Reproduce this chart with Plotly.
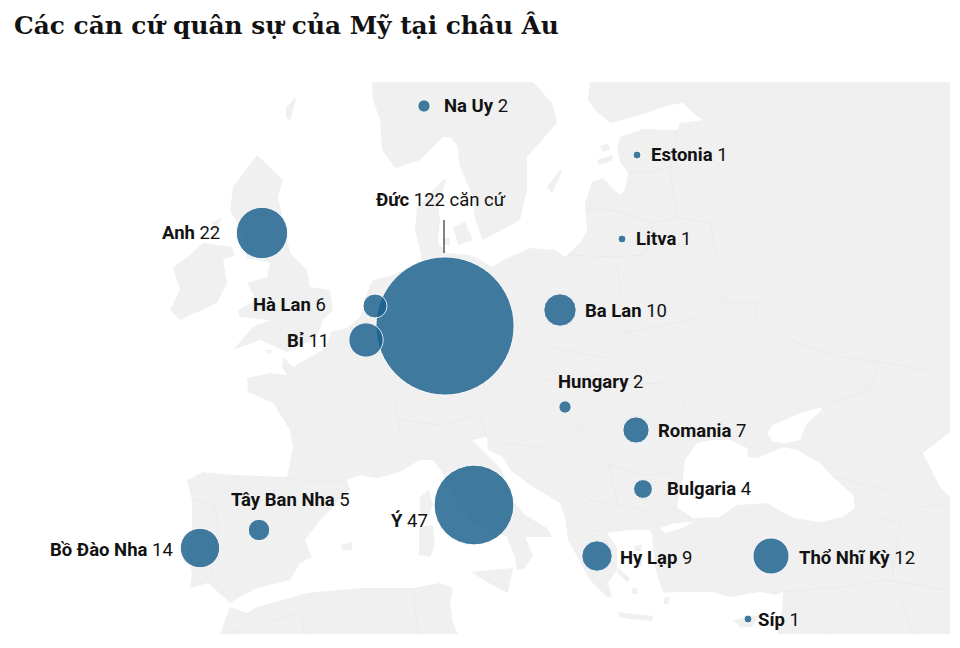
import plotly.graph_objects as go

countries = ['Đức', 'Ý', 'Anh', 'Bồ Đào Nha', 'Thổ Nhĩ Kỳ', 'Bỉ', 'Ba Lan', 'Hy Lạp', 'Romania', 'Hà Lan',
             'Tây Ban Nha', 'Bulgaria', 'Na Uy', 'Hungary', 'Estonia', 'Litva', 'Síp']
bases = [122, 47, 22, 14, 12, 11, 10, 9, 7, 6, 5, 4, 2, 2, 1, 1, 1]
suffix = [' căn cứ'] + [''] * 16

# where each country sits on the map
map_x = [445, 474, 262, 200, 771, 366, 560, 597, 636, 375, 259, 643, 424, 565, 637, 622, 748]
map_y = [326, 505, 233, 548, 556, 340, 310, 556, 430, 306, 530, 489, 106, 407, 155, 239, 619]
label_x = [376, 391, 162, 50, 799, 287, 585, 620, 658, 253, 231, 667, 444, 558, 651, 636, 758]
label_y = [200, 521, 233, 550, 558, 341, 311, 558, 431, 305, 500, 489, 106, 382, 155, 239, 620]

leader_x = [444, 444]
leader_y = [220, 253]

mainland = [(590,82),(588,100),(595,110),(610,123),(640,115),(670,105),(683,103),(693,113),(703,120),(680,123),
    (677,130),(643,129),(620,137),(617,148),(620,162),(628,173),(625,190),(620,195),(612,188),(603,178),(592,182),
    (585,203),(587,230),(580,243),(565,257),(555,250),(530,248),(503,260),(493,267),(470,255),(447,253),(438,243),
    (440,220),(438,203),(447,178),(443,180),(417,207),(415,230),(420,250),(422,263),(387,277),(373,280),(368,290),
    (360,317),(347,328),(330,332),(330,337),(323,350),(310,357),(293,367),(283,357),(282,367),(287,375),(270,373),
    (247,378),(248,392),(273,403),(290,430),(293,447),(287,477),(233,475),(203,472),(187,480),(192,500),(192,530),
    (187,553),(192,573),(190,588),(208,583),(230,603),(240,597),(257,588),(290,580),(300,563),(312,557),(305,540),
    (320,520),(350,490),(347,480),(360,475),(377,478),(400,472),(420,460),(433,460),(442,472),(450,490),(470,520),
    (507,537),(515,557),(517,570),(525,568),(533,555),(525,537),(552,537),(547,528),(525,515),(512,500),(502,470),
    (472,440),(487,437),(488,450),(503,457),(510,470),(533,487),(560,503),(565,517),(568,540),(583,567),(590,580),
    (607,597),(612,597),(608,583),(617,570),(617,548),(607,533),(627,530),(650,530),(652,535),(655,567),(663,593),
    (680,592),(713,592),(730,597),(760,592),(777,595),(783,592),(782,610),(777,634),(950,634),(950,82)]
scandinavia = [(372,82),(373,100),(380,120),(382,150),(395,168),(420,160),(443,137),(450,137),(457,145),(460,167),
    (473,197),(475,220),(483,240),(507,227),(520,220),(527,190),(527,157),(557,123),(552,103),(533,82)]
britain = [(257,155),(283,180),(278,197),(285,230),(290,253),(307,270),(310,287),(330,290),(333,310),(323,320),
    (317,337),(287,352),(260,340),(233,350),(253,327),(270,320),(240,317),(238,310),(256,300),(247,283),(267,277),
    (270,263),(247,258),(243,233),(230,210),(233,187)]
ireland = [(203,243),(232,247),(235,255),(223,260),(227,283),(217,303),(180,320),(170,310),(180,290),(173,267),(190,255)]
africa = [(220,634),(230,607),(247,613),(257,607),(307,593),(360,588),(413,588),(440,583),(453,588),(450,603),
    (453,623),(458,634)]
corsica = [(420,497),(429,490),(433,505),(428,517),(420,512)]
sardinia = [(419,527),(433,525),(435,545),(430,557),(419,555)]
sicily = [(472,572),(513,568),(508,593),(483,580)]
crete = [(618,612),(635,614),(653,616),(652,621),(630,619),(619,617)]
cyprus = [(733,620),(760,615),(752,627),(740,627)]
balearic = [(340,545),(352,542),(352,550),(344,551)]
zealand = [(453,227),(465,222),(473,240),(458,245)]
funen = [(443,238),(450,238),(450,245),(443,245)]
gotland = [(547,187),(560,170),(562,172),(552,193)]
saaremaa = [(597,160),(613,155),(612,161),(599,165)]
hiiumaa = [(600,146),(608,143),(610,149),(603,152)]
shetland = [(286,108),(295,97),(296,100),(290,120),(286,118)]
hebrides = [(212,222),(222,218),(218,225),(214,232)]
wight = [(263,350),(272,350),(270,354)]
euboea = [(618,568),(630,578),(627,582),(617,573)]
lesbos = [(634,546),(642,545),(641,551),(635,551)]
chios = [(638,560),(642,559),(642,566),(638,566)]
naxos = [(632,588),(638,588),(637,594),(632,594)]
rhodes = [(664,598),(670,596),(668,604),(664,604)]
land = [mainland, scandinavia, britain, ireland, africa, corsica, sardinia, sicily, crete, cyprus, balearic,
        zealand, funen, gotland, saaremaa, hiiumaa, shetland, hebrides, wight, euboea, lesbos, chios, naxos, rhodes]

black_sea = [(697,443),(685,460),(683,477),(677,507),(693,518),(720,517),(737,505),(767,503),(793,518),(820,522),
    (843,517),(855,508),(853,495),(833,477),(820,463),(797,450),(783,447),(757,458),(748,457),(747,448),(730,440),
    (713,440)]
azov = [(767,433),(773,425),(800,413),(823,407),(820,412),(807,423),(800,440),(787,443),(773,442)]
caspian = [(950,432),(923,453),(933,473),(940,487),(950,497)]
marmara = [(660,528),(675,523),(693,522),(680,529),(665,533)]
water = [black_sea, azov, caspian, marmara]

borders = [
    [(287,477),(310,482),(347,482)],
    [(192,500),(215,505),(218,530),(210,578)],
    [(340,335),(385,395),(395,400),(400,430),(410,445),(420,460)],
    [(400,420),(440,425),(480,415),(487,437)],
    [(617,263),(620,287),(625,333),(607,358)],
    [(520,337),(547,347),(580,353),(607,358)],
    [(568,255),(613,257),(645,255),(653,223)],
    [(585,210),(613,210),(653,223),(677,217)],
    [(628,172),(647,173),(670,167)],
    [(677,130),(670,173),(677,217),(710,223),(717,257),(737,277),(723,303),(757,303),(757,320),(797,343),(843,357),
     (880,362),(925,370),(935,345),(950,350)],
    [(880,362),(870,390),(840,400),(823,407)],
    [(625,333),(700,318),(723,303)],
    [(525,370),(560,385),(597,375),(625,385),(660,383),(683,400),(697,437)],
    [(597,397),(580,427),(608,463),(637,475),(677,473)],
    [(608,463),(618,505),(657,513),(677,507)],
    [(500,443),(540,447),(580,427)],
    [(540,447),(560,480),(590,500),(618,505)],
    [(582,520),(590,530),(607,533)],
    [(783,592),(840,587),(887,580),(947,590)],
    [(880,517),(900,523),(893,573),(890,553)],
    [(833,477),(890,490),(917,507),(950,505)],
    [(900,597),(913,634)],
    [(800,592),(830,634)],
    [(230,633),(300,612),(305,634)],
    [(413,588),(418,634)],
]
border_x = []
border_y = []
for b in borders:
    border_x += [p[0] for p in b] + [None]
    border_y += [p[1] for p in b] + [None]

fig = go.Figure()


def add_shape_trace(points, colour):
    fig.add_trace(go.Scatter(x=[p[0] for p in points] + [points[0][0]], y=[p[1] for p in points] + [points[0][1]],
                             mode='lines', fill='toself', fillcolor=colour, line=dict(width=0), hoverinfo='skip',
                             showlegend=False))


for poly in land:
    add_shape_trace(poly, '#f0f0f0')
for poly in water:
    add_shape_trace(poly, '#ffffff')

fig.add_trace(go.Scatter(x=border_x, y=border_y, mode='lines', line=dict(color='#e8e8e8', width=0.8),
                         hoverinfo='skip', showlegend=False))

fig.add_trace(go.Scatter(x=leader_x, y=leader_y, mode='lines', line=dict(color='#333333', width=1.2),
                         hoverinfo='skip', showlegend=False))

fig.add_trace(go.Scatter(
    x=map_x, y=map_y, mode='markers', text=countries, hovertemplate='%{text}<extra></extra>', showlegend=False,
    marker=dict(size=[9 * v ** 0.57 - 1 for v in bases], sizemode='diameter', color='rgb(25,95,140)',
                opacity=0.82, line=dict(color='white', width=1))
))

for i in range(len(countries)):
    fig.add_annotation(x=label_x[i], y=label_y[i], xref='x', yref='y', xanchor='left', yanchor='middle', xshift=-1,
                       text=f"<b>{countries[i]}</b> {bases[i]}{suffix[i]}", showarrow=False, borderpad=0,
                       font=dict(family='Roboto', size=18.5, color='#121212'))

fig.update_layout(
    width=960, height=648, margin=dict(l=0, r=0, t=0, b=0), plot_bgcolor='white', paper_bgcolor='white',
    title=dict(text='<b>Các căn cứ quân sự của Mỹ tại châu Âu</b>', x=14 / 960, xanchor='left', y=1 - 25 / 648, yanchor='middle',
               font=dict(family='DejaVu Serif', size=24.8, color='#121212')),
    xaxis=dict(range=[0, 960], visible=False, fixedrange=True),
    yaxis=dict(range=[648, 0], visible=False, fixedrange=True),
    showlegend=False,
)

fig.write_html("out.html", post_script="document.body.style.margin='0';", config=dict(displayModeBar=False))
